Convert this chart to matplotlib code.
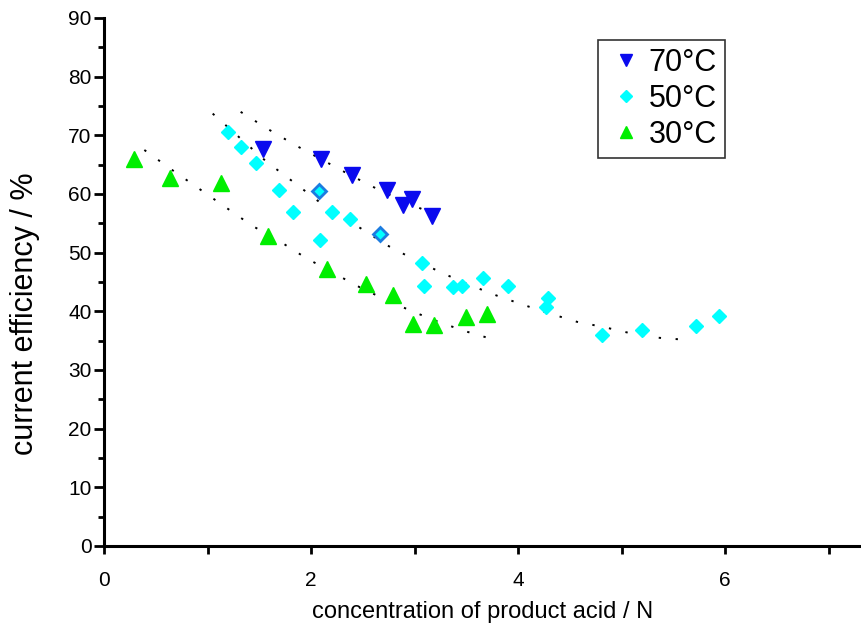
import matplotlib.pyplot as plt
from matplotlib.ticker import MultipleLocator

plt.rcParams['font.family'] = ['Liberation Sans', 'DejaVu Sans']

# 70 °C
x70 = [1.54, 2.10, 2.40, 2.73, 2.89, 2.97, 3.17]
y70 = [67.6, 65.9, 63.2, 60.7, 58.2, 59.2, 56.3]

# 50 °C
x50 = [1.20, 1.32, 1.47, 1.69, 1.83, 2.08, 2.20, 2.38, 2.09, 2.67, 3.07, 3.09,
       3.37, 3.46, 3.66, 3.90, 4.29, 4.27, 4.81, 5.20, 5.72, 5.94]
y50 = [70.6, 68.0, 65.3, 60.7, 57.0, 60.5, 57.0, 55.7, 52.1, 53.1, 48.2, 44.4,
       44.2, 44.4, 45.7, 44.4, 42.3, 40.8, 35.9, 36.8, 37.5, 39.2]
outlined50 = [False, False, False, False, False, True, False, False, False, True, False, False,
              False, False, False, False, False, False, False, False, False, False]

# 30 °C
x30 = [0.29, 0.64, 1.13, 1.58, 2.15, 2.53, 2.79, 2.98, 3.19, 3.50, 3.70]
y30 = [65.9, 62.7, 61.9, 52.9, 47.2, 44.7, 42.7, 37.9, 37.6, 39.0, 39.6]

# dotted trend lines
t70x = [1.32, 1.59, 1.85, 2.11, 2.38, 2.70, 3.10]
t70y = [74.0, 71.0, 68.3, 65.8, 63.2, 60.3, 57.2]
t50x = [1.05, 1.31, 1.57, 1.84, 2.09, 2.36, 2.74, 3.00, 3.27, 3.53, 3.79, 4.05,
        4.31, 4.57, 4.83, 5.10, 5.35, 5.65]
t50y = [73.7, 69.6, 65.5, 61.9, 58.5, 55.5, 51.2, 48.8, 46.5, 44.5, 42.7, 41.1,
        39.6, 38.2, 37.3, 36.2, 35.5, 35.1]
t30x = [0.39, 0.65, 0.91, 1.17, 1.43, 1.70, 1.95, 2.22, 2.47, 2.73, 2.99, 3.26, 3.51, 3.78]
t30y = [67.5, 64.2, 61.0, 57.8, 54.6, 51.9, 49.1, 46.5, 44.1, 41.9, 39.9, 38.0, 36.5, 35.1]

fig = plt.figure(figsize=(8.62, 6.29), dpi=100)
ax = fig.add_axes([0.1206, 0.132, 0.8794, 0.8394])

for tx, ty in [(t70x, t70y), (t50x, t50y), (t30x, t30y)]:
    ax.plot(tx, ty, color='black', lw=1.4, dashes=(1.2, 7.5), zorder=1)

ax.plot(x70, y70, 'v', color='#0a0aee', ms=11.5, mec='#0a0aee', ls='none', label='70°C', zorder=3)
ax.plot(x50, y50, 'D', color='#00ffff', ms=7.6, mec='#00ffff', ls='none', label='50°C', zorder=3)
ox = [x for x, o in zip(x50, outlined50) if o]
oy = [y for y, o in zip(y50, outlined50) if o]
ax.plot(ox, oy, 'D', color='#00ffff', ms=7.6, mec='#1c7ce0', mew=2, ls='none', zorder=4)
ax.plot(x30, y30, '^', color='#00ee00', ms=11.5, mec='#00ee00', ls='none', label='30°C', zorder=3)

ax.set_xlim(0, 7.32)
ax.set_ylim(0, 90)
ax.spines['top'].set_visible(False)
ax.spines['right'].set_visible(False)
ax.spines['left'].set_linewidth(2.2)
ax.spines['bottom'].set_linewidth(2.2)

ax.xaxis.set_major_locator(MultipleLocator(2))
ax.xaxis.set_minor_locator(MultipleLocator(1))
ax.yaxis.set_major_locator(MultipleLocator(10))
ax.yaxis.set_minor_locator(MultipleLocator(5))
ax.tick_params(which='both', direction='out', width=2, labelsize=15, colors='black')
ax.tick_params(axis='x', which='both', length=6, pad=12)
ax.tick_params(axis='y', which='major', length=7, pad=2)
ax.tick_params(axis='y', which='minor', length=4)

ax.set_xlabel('concentration of product acid / N', fontsize=17, labelpad=8)
ax.set_ylabel('current efficiency / %', fontsize=22)
ax.yaxis.set_label_coords(-0.084, 0.44)

leg = ax.legend(loc='upper left', bbox_to_anchor=(0.652, 0.958), borderaxespad=0,
                fontsize=22, frameon=True, fancybox=False, edgecolor='black',
                markerscale=0.75, handlelength=1.3, handletextpad=0.1,
                borderpad=0.25, labelspacing=0.2)
leg.get_frame().set_linewidth(1.2)

fig.savefig('out.png', dpi=100)
